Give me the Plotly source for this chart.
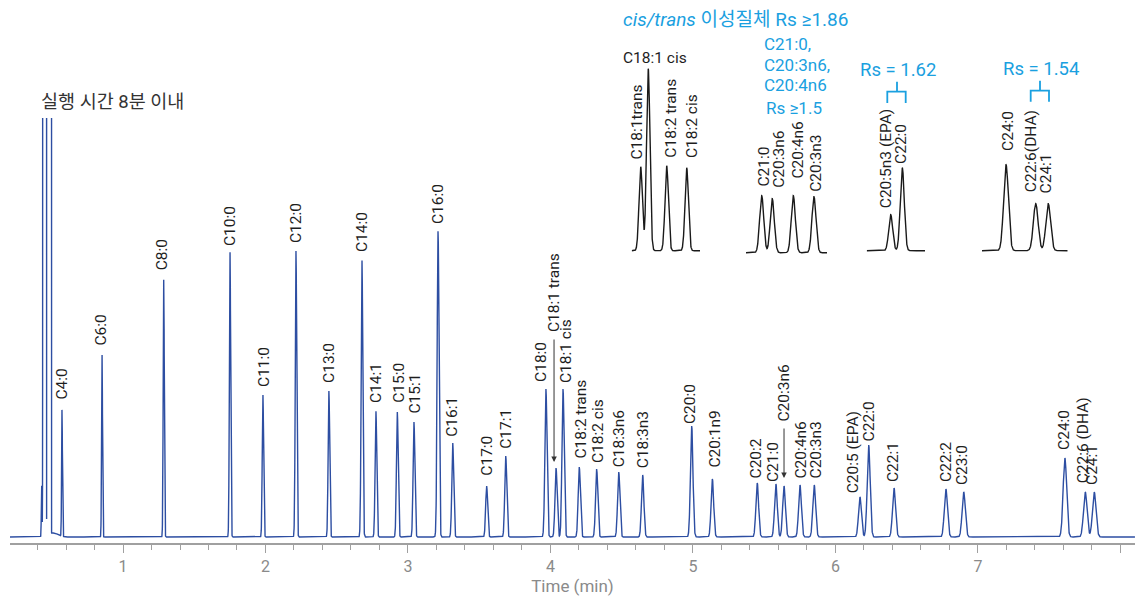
import numpy as np
import plotly.graph_objects as go

# ---------------- data ----------------
peak_names = ["C4:0", "C6:0", "C8:0", "C10:0", "C11:0", "C12:0", "C13:0", "C14:0", "C14:1",
              "C15:0", "C15:1", "C16:0", "C16:1", "C17:0", "C17:1", "C18:0", "C18:1 trans",
              "C18:1 cis", "C18:2 trans", "C18:2 cis", "C18:3n6", "C18:3n3", "C20:0", "C20:1n9",
              "C20:2", "C21:0", "C20:3n6", "C20:4n6", "C20:3n3", "C20:5 (EPA)", "C22:0", "C22:1",
              "C22:2", "C23:0", "C24:0", "C22:6 (DHA)", "C24:1"]
peak_times = [0.572, 0.853, 1.286, 1.751, 1.982, 2.214, 2.445, 2.677, 2.775,
              2.925, 3.042, 3.211, 3.314, 3.552, 3.686, 3.968, 4.039,
              4.088, 4.202, 4.324, 4.479, 4.647, 4.991, 5.136,
              5.451, 5.582, 5.639, 5.751, 5.851, 6.172, 6.233, 6.411,
              6.775, 6.900, 7.610, 7.753, 7.816]
peak_heights = [127, 182, 258, 285, 142, 286, 146, 277, 126,
                125, 115, 306, 94, 51, 81, 148, 69,
                148, 70, 68, 65, 62, 111, 58,
                54, 53, 51, 52, 52, 40, 92, 49,
                48, 45, 79, 45, 45]

# solvent front (off-scale) and its tail
solvent_times = [0.4295, 0.4491, 0.4807, 0.509]
solvent_heights = [51, 1e7, 1e7, 4]
solvent_widths_px = [0.35, 0.40, 0.45, 5.0]

# insets (zoomed views)
inset1_names = ["C18:1trans", "C18:1 cis", "C18:2 trans", "C18:2 cis"]
inset1_times = [4.028, 4.075, 4.190, 4.315]
inset1_heights = [84, 182, 85, 83]

inset2_names = ["C21:0", "C20:3n6", "C20:4n6", "C20:3n3"]
inset2_times = [5.566, 5.620, 5.728, 5.834]
inset2_heights = [57, 54, 57, 56]

inset3_names = ["C20:5n3 (EPA)", "C22:0"]
inset3_times = [6.154, 6.210]
inset3_heights = [36, 83]

inset4_names = ["C24:0", "C22:6(DHA)", "C24:1"]
inset4_times = [7.587, 7.730, 7.790]
inset4_heights = [86, 47, 47]

tick_vals = [1, 2, 3, 4, 5, 6, 7, 8]
tick_text = ["1", "2", "3", "4", "5", "6", "7", ""]

# ---------------- layout geometry ----------------
W, H = 1135, 600
ML, MR, MT, MB = 10, 0, 10, 57
PW, PH = W - ML - MR, H - MT - MB
PXMIN = 142.5                  # pixels per minute on main axis
X_RANGE = [0.207, 8.102]


def px(xp):
    return (xp - ML) / PW


def py(yp):
    return (H - MB - yp) / PH


def gauss_sum(t, times, heights, sigmas):
    y = np.zeros_like(t)
    for ti, hi, si in zip(times, heights, sigmas):
        y += hi * np.exp(-0.5 * ((t - ti) / si) ** 2)
    return y


BLUE = "#2d4ea2"
CYAN = "#1aa0e0"
FONT = "Roboto, 'Noto Sans CJK KR'"
LBL = 15.5

fig = go.Figure()

# main chromatogram
t = np.arange(X_RANGE[0], X_RANGE[1], 0.0007)
sig_main = [(0.3 + 0.19 * ti) / PXMIN for ti in peak_times]
sig_solv = [w / PXMIN for w in solvent_widths_px]
y = gauss_sum(t, peak_times, peak_heights, sig_main) + gauss_sum(t, solvent_times, solvent_heights, sig_solv)
fig.add_trace(go.Scatter(x=t, y=y, mode="lines", line=dict(color=BLUE, width=1.4),
                         hoverinfo="skip", showlegend=False))

# insets: (names, times, heights, left px, right px, px/min, baseline px, sigma px, first-peak px)
insets = [
    (inset1_names, inset1_times, inset1_heights, 631.7, 700.0, 160.3, 250.7, 1.7, 640.7),
    (inset2_names, inset2_times, inset2_heights, 746.0, 827.0, 195.0, 252.7, 2.05, 761.7),
    (inset3_names, inset3_times, inset3_heights, 866.7, 925.0, 207.0, 250.7, 2.0, 890.7),
    (inset4_names, inset4_times, inset4_heights, 982.0, 1067.7, 208.0, 250.7, 2.4, 1006.0),
]
IN_TOP, IN_BOT = 30, 256

layout_axes = {}
for i, (nm, tm, hm, L, R, sc, base, sg, first_px) in enumerate(insets):
    k = i + 2
    tL = tm[0] - (first_px - L) / sc
    tR = tm[0] + (R - first_px) / sc
    tt = np.linspace(tL, tR, 1500)
    yy = gauss_sum(tt, tm, hm, [sg / sc] * len(tm))
    fig.add_trace(go.Scatter(x=tt, y=yy, xaxis=f"x{k}", yaxis=f"y{k}", mode="lines",
                             line=dict(color="#1a1a1a", width=1.4), hoverinfo="skip",
                             showlegend=False))
    layout_axes[f"xaxis{k}"] = dict(domain=[px(L), px(R)], range=[tL, tR], visible=False,
                                    anchor=f"y{k}", fixedrange=True)
    layout_axes[f"yaxis{k}"] = dict(domain=[py(IN_BOT), py(IN_TOP)],
                                    range=[-(IN_BOT - base), base - IN_TOP], visible=False,
                                    anchor=f"x{k}", fixedrange=True)

annotations = []

# main peak labels: (xshift px, gap px above peak top)
main_offsets = {
    "C4:0": (-1, 10), "C6:0": (-2, 9), "C8:0": (-2, 9), "C10:0": (0, 6), "C11:0": (1, 8),
    "C12:0": (0, 8), "C13:0": (0, 8), "C14:0": (0, 8), "C14:1": (0, 8), "C15:0": (1.5, 9),
    "C15:1": (1.5, 9), "C16:0": (0, 7), "C16:1": (-1, 6), "C17:0": (0, 10), "C17:1": (0, 7),
    "C18:0": (-5, 7), "C18:1 trans": (-2.5, 136), "C18:1 cis": (3, 6), "C18:2 trans": (1.7, 9),
    "C18:2 cis": (1.3, 6), "C18:3n6": (0, 5), "C18:3n3": (0, 7), "C20:0": (-1.7, 2),
    "C20:1n9": (1.7, 11), "C20:2": (-0.8, 5), "C21:0": (-3.5, 2.3), "C20:3n6": (-1, 64),
    "C20:4n6": (1, 7), "C20:3n3": (1.7, 7), "C20:5 (EPA)": (-7, 3.7), "C22:0": (0, 3.3),
    "C22:1": (-1, 6), "C22:2": (0, 7), "C23:0": (-1.7, 7), "C24:0": (-1, 8),
    "C22:6 (DHA)": (-2.3, 8.7), "C24:1": (-2.3, 7),
}
for nm, ti, hi in zip(peak_names, peak_times, peak_heights):
    dx, gap = main_offsets[nm]
    annotations.append(dict(x=ti, y=hi, xref="x", yref="y", text=nm, textangle=-90,
                            showarrow=False, xanchor="center", yanchor="bottom",
                            xshift=dx, yshift=gap - 1, borderpad=0,
                            font=dict(family=FONT, size=LBL, color="#1e1e1e")))

# arrows to the co-eluting peaks: (peak name, xshift, head gap, tail gap)
for nm, dx, hg, tg in [("C18:1 trans", -2, 6, 130), ("C20:3n6", 0, 8, 59)]:
    j = peak_names.index(nm)
    annotations.append(dict(x=peak_times[j], y=peak_heights[j], xref="x", yref="y", text="",
                            showarrow=True, ax=0, ay=-(tg - hg), xshift=dx, yshift=hg,
                            arrowhead=2, arrowsize=1.1, arrowwidth=1, arrowcolor="#333333",
                            standoff=0, startstandoff=0))

# inset labels: (xshift, gap)
inset_offsets = [
    {"C18:1trans": (-3.7, 6.7), "C18:2 trans": (4.8, 8), "C18:2 cis": (5.3, 9.7)},
    {"C21:0": (1.8, 8.7), "C20:3n6": (6.7, 11.3), "C20:4n6": (5.7, 17.7), "C20:3n3": (2.3, 4.7)},
    {"C20:5n3 (EPA)": (-4.7, 6), "C22:0": (-0.8, 4.3)},
    {"C24:0": (2.5, 13.3), "C22:6(DHA)": (-4.7, 11.6), "C24:1": (-1.8, 10.7)},
]
for i, (nm_list, tm, hm, *_r) in enumerate(insets):
    k = i + 2
    for nm, ti, hi in zip(nm_list, tm, hm):
        if nm == "C18:1 cis":
            annotations.append(dict(x=ti, y=hi, xref=f"x{k}", yref=f"y{k}", text=nm,
                                    showarrow=False, xanchor="center", yanchor="bottom",
                                    xshift=7, yshift=1, borderpad=0,
                                    font=dict(family=FONT, size=LBL, color="#1e1e1e")))
            continue
        dx, gap = inset_offsets[i][nm]
        annotations.append(dict(x=ti, y=hi, xref=f"x{k}", yref=f"y{k}", text=nm, textangle=-90,
                                showarrow=False, xanchor="center", yanchor="bottom",
                                xshift=dx, yshift=gap - 1, borderpad=0,
                                font=dict(family=FONT, size=LBL, color="#1e1e1e")))


# cyan notes
def note(text, xp, yp, size, xanchor="center", color=CYAN):
    annotations.append(dict(x=px(xp), y=py(yp), xref="paper", yref="paper", text=text,
                            showarrow=False, xanchor=xanchor, yanchor="middle", borderpad=0,
                            font=dict(family=FONT, size=size, color=color)))


note("<i>cis/trans</i> 이성질체 Rs ≥1.86", 622, 19, 19, xanchor="left")
note("C21:0,", 763, 44, 17, xanchor="left")
note("C20:3n6,", 763, 65, 17, xanchor="left")
note("C20:4n6", 763, 85, 17, xanchor="left")
note("Rs ≥1.5", 793.5, 108, 17)
note("Rs = 1.62", 898, 70, 18.5)
note("Rs = 1.54", 1041, 69, 18.5)
note("실행 시간 8분 이내", 40, 102, 18.5, xanchor="left", color="#333333")

shapes = []
for (xl, xr, xm, ybar, ybot, ytop) in [(887.3, 905.7, 897, 91.7, 103, 81.7),
                                         (1030.7, 1049, 1040, 90.7, 101.7, 80.7)]:
    path = (f"M {px(xl)} {py(ybot)} L {px(xl)} {py(ybar)} L {px(xr)} {py(ybar)} "
            f"L {px(xr)} {py(ybot)} M {px(xm)} {py(ybar)} L {px(xm)} {py(ytop)}")
    shapes.append(dict(type="path", path=path, xref="paper", yref="paper",
                       line=dict(color=CYAN, width=1.8)))

AXC = "#a0a0a0"
fig.update_layout(
    width=W, height=H,
    margin=dict(l=ML, r=MR, t=MT, b=MB, autoexpand=False),
    paper_bgcolor="white", plot_bgcolor="white",
    showlegend=False,
    xaxis=dict(domain=[0, 1], range=X_RANGE, showgrid=False, zeroline=False,
               showline=True, linecolor=AXC, linewidth=2,
               ticks="outside", ticklen=8, tickwidth=1.3, tickcolor=AXC,
               tickvals=tick_vals, ticktext=tick_text,
               tickfont=dict(family=FONT, size=16, color="#8a8a8a"),
               minor=dict(dtick=0.2, tick0=0, ticks="outside", ticklen=5, tickwidth=1, tickcolor=AXC),
               title=dict(text="Time (min)", font=dict(family=FONT, size=17, color="#8a8a8a"),
                          standoff=4),
               fixedrange=True),
    yaxis=dict(domain=[0, py(118)], range=[-6, 419], visible=False, fixedrange=True),
    annotations=annotations,
    shapes=shapes,
    **layout_axes,
)

fig.write_html("out.html")
